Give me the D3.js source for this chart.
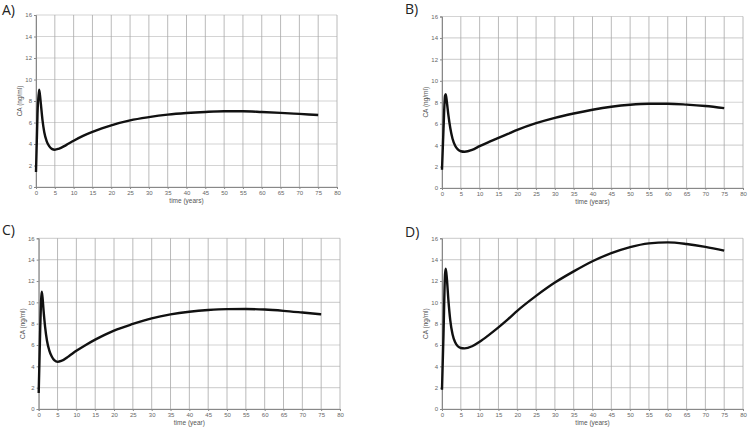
<!DOCTYPE html>
<html>
<head>
<meta charset="utf-8">
<script src="https://cdn.jsdelivr.net/npm/d3@7"></script>
<style>
  body { margin: 0; background: #fff; }
  svg { display: block; }
  .tick text { font-family: "Liberation Sans", Arial, sans-serif; font-size: 6px; fill: #666; }
  .axis-label { font-family: "Liberation Sans", Arial, sans-serif; font-size: 6.5px; fill: #555; }
  .panel-title { font-family: "Open Sans", "Noto Sans", sans-serif; font-size: 14px; fill: #222; }
</style>
</head>
<body>
<div id="chart"></div>
<script>
"use strict";

// time points (years) shared by all four simulations
const timeYears = [0, 0.4, 0.8, 1.0, 1.3, 1.7, 2.2, 2.8, 3.5, 4.2, 5, 6, 8, 10, 12.5, 15,
  17.5, 20, 25, 30, 35, 40, 45, 50, 55, 60, 65, 70, 75];

// CA (ng/ml)
const caA = [1.4, 6.8, 9.05, 8.7, 7.7, 6.3, 5.1, 4.3, 3.8, 3.55, 3.47, 3.55, 3.9, 4.3, 4.75,
  5.12, 5.45, 5.74, 6.2, 6.5, 6.73, 6.88, 6.98, 7.04, 7.04, 6.98, 6.9, 6.8, 6.7];
const caB = [1.7, 5.5, 8.6, 8.75, 8.0, 6.8, 5.6, 4.6, 3.95, 3.6, 3.43, 3.38, 3.55, 3.9, 4.3,
  4.68, 5.05, 5.42, 6.05, 6.55, 6.95, 7.3, 7.58, 7.77, 7.86, 7.86, 7.78, 7.65, 7.45];
const caC = [1.5, 7.5, 11.0, 10.5, 9.2, 7.7, 6.4, 5.5, 4.9, 4.55, 4.42, 4.5, 4.95, 5.45, 6.0,
  6.5, 6.95, 7.35, 7.97, 8.5, 8.87, 9.12, 9.28, 9.36, 9.37, 9.32, 9.2, 9.04, 8.87];
const caD = [1.8, 7.0, 12.6, 13.15, 12.2, 10.2, 8.3, 7.0, 6.25, 5.88, 5.72, 5.68, 5.88, 6.3, 6.95,
  7.65, 8.4, 9.2, 10.6, 11.85, 12.9, 13.85, 14.6, 15.17, 15.52, 15.62, 15.47, 15.2, 14.84];

const xTicks = d3.range(0, 81, 5);
const yTicks = d3.range(0, 17, 2);
const panelTitles = ['A)', 'B)', 'C)', 'D)'];
const xLabels = ['time (years)', 'time (years)', 'time (year)', 'time (years)'];
const yLabel = 'CA (ng/ml)';

const W = 748, H = 429;

const svg = d3.select('#chart').append('svg')
  .attr('width', W)
  .attr('height', H);

// pixel box of each plot area: left, right, top, bottom
const boxes = [
  { x0: 36, x1: 337, y0: 15, y1: 187, tx: 2, ty: 15 },
  { x0: 442, x1: 743, y0: 16.5, y1: 188, tx: 405, ty: 14 },
  { x0: 38.7, x1: 340, y0: 238.3, y1: 409, tx: 2, ty: 235 },
  { x0: 442, x1: 743, y0: 238.3, y1: 409, tx: 405, ty: 237 }
];

const series = [caA, caB, caC, caD];

function drawPanel(i) {
  const b = boxes[i];
  const values = series[i];

  const x = d3.scaleLinear().domain([0, 80]).range([b.x0, b.x1]);
  const y = d3.scaleLinear().domain([0, 16]).range([b.y1, b.y0]);

  const g = svg.append('g');

  // grid
  g.append('g').selectAll('line')
    .data(yTicks)
    .join('line')
    .attr('x1', b.x0).attr('x2', b.x1)
    .attr('y1', d => y(d)).attr('y2', d => y(d))
    .attr('stroke', '#d4d4d4')
    .attr('stroke-width', 1.2);

  g.append('g').selectAll('line')
    .data(xTicks)
    .join('line')
    .attr('x1', d => x(d)).attr('x2', d => x(d))
    .attr('y1', b.y0).attr('y2', b.y1)
    .attr('stroke', '#a8a8a8')
    .attr('stroke-width', 0.8);

  // axes
  const xAxis = d3.axisBottom(x).tickValues(xTicks).tickSize(2).tickPadding(2);
  const yAxis = d3.axisLeft(y).tickValues(yTicks).tickSize(2).tickPadding(2);

  const xg = g.append('g')
    .attr('transform', `translate(0,${b.y1})`)
    .call(xAxis);
  const yg = g.append('g')
    .attr('transform', `translate(${b.x0},0)`)
    .call(yAxis);

  [xg, yg].forEach(a => {
    a.select('.domain').attr('stroke', '#888').attr('stroke-width', 1);
    a.selectAll('.tick line').attr('stroke', '#888');
  });

  // axis labels
  g.append('text')
    .attr('class', 'axis-label')
    .attr('x', (b.x0 + b.x1) / 2)
    .attr('y', b.y1 + 16)
    .attr('text-anchor', 'middle')
    .text(xLabels[i]);

  g.append('text')
    .attr('class', 'axis-label')
    .attr('transform', `translate(${b.x0 - 14},${(b.y0 + b.y1) / 2}) rotate(-90)`)
    .attr('text-anchor', 'middle')
    .text(yLabel);

  // curve
  const line = d3.line()
    .x((d, j) => x(timeYears[j]))
    .y(d => y(d))
    .curve(d3.curveMonotoneX);

  g.append('path')
    .datum(values)
    .attr('d', line)
    .attr('fill', 'none')
    .attr('stroke', '#111')
    .attr('stroke-width', 2.4)
    .attr('stroke-linejoin', 'round');

  // panel letter
  svg.append('text')
    .attr('class', 'panel-title')
    .attr('x', b.tx)
    .attr('y', b.ty)
    .text(panelTitles[i]);
}

series.forEach((s, i) => drawPanel(i));
</script>
</body>
</html>
